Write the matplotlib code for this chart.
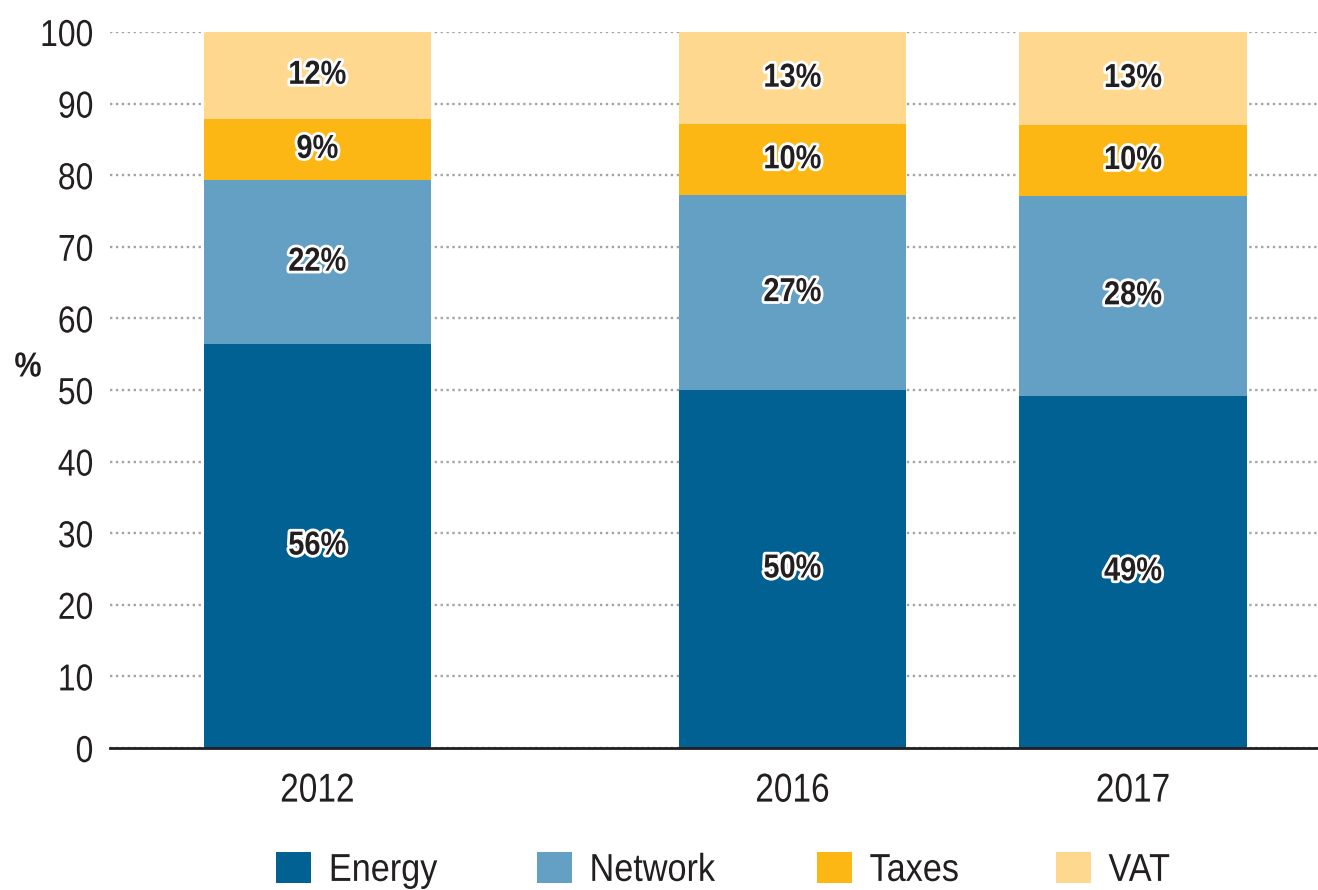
import matplotlib
matplotlib.use("Agg")
import matplotlib.pyplot as plt
import matplotlib.patheffects as pe
from matplotlib.patches import Patch
from matplotlib.transforms import Affine2D

years = ["2012", "2016", "2017"]
energy = [56.4, 50.0, 49.2]
network = [22.9, 27.2, 27.9]
taxes = [8.6, 9.9, 9.9]
vat = [12.1, 12.9, 13.0]
energy_lbl = [56, 50, 49]
network_lbl = [22, 27, 28]
taxes_lbl = [9, 10, 10]
vat_lbl = [12, 13, 13]
series_names = ["Energy", "Network", "Taxes", "VAT"]
yticks = [0, 10, 20, 30, 40, 50, 60, 70, 80, 90, 100]

colors = ["#006192", "#64a0c4", "#fdb714", "#fed88f"]
plt.rcParams["font.family"] = ["Liberation Sans", "DejaVu Sans"]


class Condensed(pe.AbstractPathEffect):
    """Horizontally compress a text around its anchor (narrow-font look)."""

    def __init__(self, text, sx, inner):
        super().__init__()
        self.text = text
        self.sx = sx
        self.inner = inner

    def draw_path(self, renderer, gc, tpath, affine, rgbFace=None):
        x0 = self.text.get_transform().transform(self.text.get_unitless_position())[0]
        m = Affine2D(affine.get_matrix().copy()).translate(-x0, 0).scale(self.sx, 1).translate(x0, 0)
        self.inner.draw_path(renderer, gc, tpath, m, rgbFace)


def condense(t, sx, stroke=None):
    effects = []
    if stroke is not None:
        effects.append(Condensed(t, sx, pe.Stroke(linewidth=stroke, foreground="white")))
    effects.append(Condensed(t, sx, pe.Normal()))
    t.set_path_effects(effects)


fig = plt.figure(figsize=(13.18, 8.9), dpi=100)
ax = fig.add_axes([110 / 1318, 1 - 748 / 890, 1 - 110 / 1318, (748 - 32) / 890])

xpos = [0, 1.395, 2.395]
width = 0.667
series = [energy, network, taxes, vat]
labels = [energy_lbl, network_lbl, taxes_lbl, vat_lbl]
bottom = [0, 0, 0]
for vals, lbls, c in zip(series, labels, colors):
    ax.bar(xpos, vals, width=width, bottom=bottom, color=c, zorder=2, linewidth=0)
    for x, v, b, l in zip(xpos, vals, bottom, lbls):
        t = ax.text(x, b + v / 2, f"{l}%", ha="center", va="center", fontsize=24,
                    fontweight="bold", color="#231f20", zorder=3)
        condense(t, 0.87, stroke=4)
    bottom = [b + v for b, v in zip(bottom, vals)]

ax.set_xlim(-0.609, 2.938)
ax.set_ylim(0, 100)
ax.set_yticks(yticks)
ax.set_xticks(xpos)
ax.set_xticklabels(years)
ax.tick_params(axis="both", length=0, colors="#231f20")
ax.tick_params(axis="y", pad=12, labelsize=27)
ax.tick_params(axis="x", pad=17, labelsize=29)
for t in ax.get_yticklabels():
    condense(t, 0.85)
for t in ax.get_xticklabels():
    condense(t, 0.83)
for s in ["top", "right", "left"]:
    ax.spines[s].set_visible(False)
ax.spines["bottom"].set_linewidth(2)
ax.spines["bottom"].set_color("#231f20")
ax.spines["bottom"].set_zorder(4)
ax.yaxis.grid(True, linestyle=(0, (1, 1.5)), color="#a4a4a4", linewidth=1.7, zorder=1)
ax.set_axisbelow(True)

pt = fig.text(28 / 1318, 1 - 367 / 890, "%", fontsize=25, fontweight="bold",
              ha="center", va="center", color="#231f20")
condense(pt, 0.88)

handles = [Patch(facecolor=c, edgecolor="none") for c in colors]
leg = fig.legend(handles, series_names, loc="center left", bbox_to_anchor=(276 / 1318, 0.022),
                 ncol=4, frameon=False, fontsize=28, handlelength=0.9, handleheight=0.85,
                 handletextpad=0.46, columnspacing=2.17, borderpad=0, borderaxespad=0)
for t in leg.get_texts():
    t.set_color("#231f20")
    condense(t, 0.88)

fig.savefig("out.png", dpi=100)
